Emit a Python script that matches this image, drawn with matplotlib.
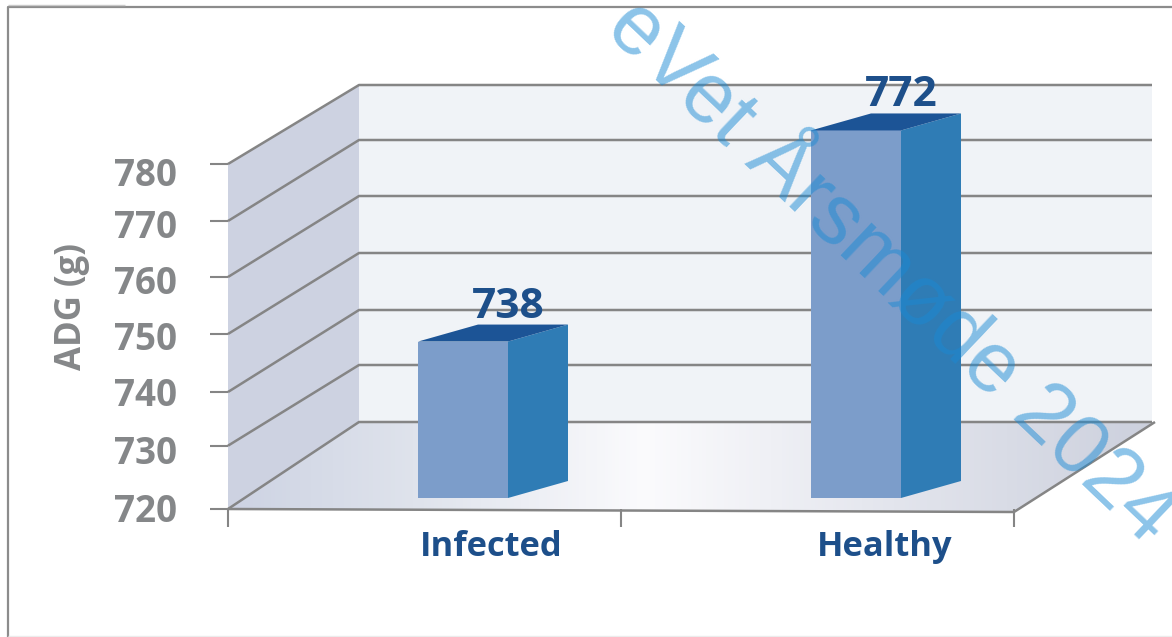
import numpy as np
import matplotlib

matplotlib.use("Agg")
import matplotlib.pyplot as plt
from matplotlib.patches import Polygon
from matplotlib.transforms import Affine2D, IdentityTransform
from matplotlib.colors import LinearSegmentedColormap

W, H = 1172, 637

# data
categories = ["Infected", "Healthy"]
bar_labels = [738, 772]
# the printed bars do not sit on the printed scale, so these are the heights
bar_tops = [746.8, 784.0]
y_ticks = [720, 730, 740, 750, 760, 770, 780]

scale_vals = [700, 720, 730, 740, 750, 760, 770, 780, 809.1]
scale_rows = [637, 509, 445.7, 392, 334, 277, 221, 164, 0]
back_rows = [422, 365, 310, 253, 196, 140, 85]
# tick labels do not sit quite level with their ticks either (pixels down)
label_drop = [-1, 4, 0, 2, 3, 3, 7]

GREY = "#858585"
LABEL = "#858789"
NAVY = "#1d4f8a"
FONT = "Open Sans"

plt.rcParams["font.family"] = FONT

fig = plt.figure(figsize=(W / 100, H / 100), dpi=100, facecolor="white")
ax = fig.add_axes([0, 0, 1, 1])
ax.patch.set_visible(False)


def forward(v):
    return -np.interp(v, scale_vals, scale_rows)


def inverse(r):
    return np.interp(-np.asarray(r), -np.array(scale_rows), scale_vals)


ax.set_yscale("function", functions=(forward, inverse))
ax.set_ylim(700, 809.1)
ax.set_xlim(-228 / 393, (W - 228) / 393)

# pixels measured from the top-left corner, for the box the chart stands in
px = Affine2D().scale(1, -1).translate(0, H)


def poly(points, **kw):
    ax.add_patch(Polygon(points, closed=True, transform=px, **kw))


def line(xs, ys, color=GREY, lw=1.8, z=3):
    ax.plot(xs, ys, color=color, lw=lw, transform=px, zorder=z, solid_capstyle="butt")


# outer frame
line([8, 8, W], [H, 7, 7], color="#8c8c8c", lw=1.6)
line([8, 125], [4.5, 4.5], color="#c9c9c9", lw=1)
line([8, W], [636, 636], color="#ececec", lw=1)

# walls
poly([(228, 164), (359, 85), (359, 422), (228, 509)], fc="#cdd2e1", ec="none", zorder=1)
poly([(359, 85), (1152, 85), (1152, 422), (359, 422)], fc="#f0f3f7", ec="none", zorder=1)

# floor, fades to white in the middle
floor_cmap = LinearSegmentedColormap.from_list(
    "floor",
    [(0, "#cdd3e3"), (0.2, "#dfe3ec"), (0.45, "#fbfbfd"), (0.72, "#e3e5ed"), (1, "#ccd0dd")],
)
floor = Polygon([(228, 509), (359, 422), (1155, 422), (1014, 512)], closed=True,
                transform=px, fc="none", ec="none")
ax.add_patch(floor)
grad = ax.imshow(np.linspace(0, 1, 256)[None, :], cmap=floor_cmap, aspect="auto", zorder=1,
                 extent=(228, 1155, 512, 422), transform=px)
grad.set_clip_path(floor)
ax.set_ylim(700, 809.1)
ax.set_xlim(-228 / 393, (W - 228) / 393)

# grid on both walls
for v, back in zip(y_ticks, back_rows):
    front = np.interp(v, scale_vals, scale_rows)
    line([228, 359, 1152], [front, back, back], z=2)
line([1014, 1155], [512, 422], z=2)
line([228, 1014], [509, 512], z=2)

# axes
for s in ax.spines.values():
    s.set_visible(False)
ax.spines["left"].set_position(("data", 0))
ax.set_yticks(y_ticks)
ax.set_yticklabels([str(v) for v in y_ticks])
ax.yaxis.set_minor_locator(plt.NullLocator())
ax.tick_params(axis="y", length=13, width=1.5, color=GREY, labelcolor=LABEL, labelsize=26.5, pad=24)
for t, drop in zip(ax.get_yticklabels(), label_drop):
    t.set_fontweight("bold")
    t.set_transform(t.get_transform() + Affine2D().translate(0, -drop))
ax.set_ylabel("ADG (g)", fontsize=25, color=LABEL, fontweight="bold")
ax.yaxis.set_label_coords(90 / W, 1 - 307 / H)

ax.spines["bottom"].set_position(("data", 720))
ax.set_xticks([0, 1, 2])
ax.set_xticklabels(["", "", ""])
ax.set_xticks([0.67, 1.67], labels=categories, minor=True)
ax.tick_params(axis="x", which="major", length=13, width=1.5, color=GREY)
ax.tick_params(axis="x", which="minor", length=0, labelcolor=NAVY, labelsize=24.8, pad=15)
for t in ax.get_xticklabels(minor=True):
    t.set_fontweight("bold")

# bars: the front face goes through ax.bar, pushed into the box by a fixed offset
centers = np.arange(len(categories)) + 0.5
front_shift = Affine2D().translate(38.5, 11)
bar_w = 90 / 393
depth_x, depth_y = 60, 17
ax.bar(centers, np.array(bar_tops) - 720, bottom=720, width=bar_w, color="#7c9dca", zorder=4,
       transform=ax.transData + front_shift)

to_disp = ax.transData + front_shift
for c, top, lab in zip(centers, bar_tops, bar_labels):
    (x0, y1), (x1, y0) = to_disp.transform([(c - bar_w / 2, top), (c + bar_w / 2, 720)])
    ax.add_patch(Polygon([(x1, y0), (x1 + depth_x, y0 + depth_y), (x1 + depth_x, y1 + depth_y), (x1, y1)],
                         fc="#2f7cb5", ec="none", zorder=4, transform=IdentityTransform()))
    ax.add_patch(Polygon([(x0, y1), (x1, y1), (x1 + depth_x, y1 + depth_y), (x0 + depth_x, y1 + depth_y)],
                         fc="#1c5496", ec="none", zorder=4, transform=IdentityTransform()))
    ax.text((x0 + x1) / 2 + 45, y1 + depth_y + 7, str(lab), transform=IdentityTransform(),
            ha="center", va="baseline", fontsize=30.5, fontweight="bold", color=NAVY, zorder=5)

# watermark
ax.text(890, 272, "eVet Årsmøde 2024", transform=px, rotation=-43.5, rotation_mode="anchor",
        ha="center", va="center", fontsize=61, family="Liberation Sans", color="#1a8ad4",
        alpha=0.5, zorder=6, clip_on=True)

fig.savefig("out.png", dpi=100, facecolor="white")
